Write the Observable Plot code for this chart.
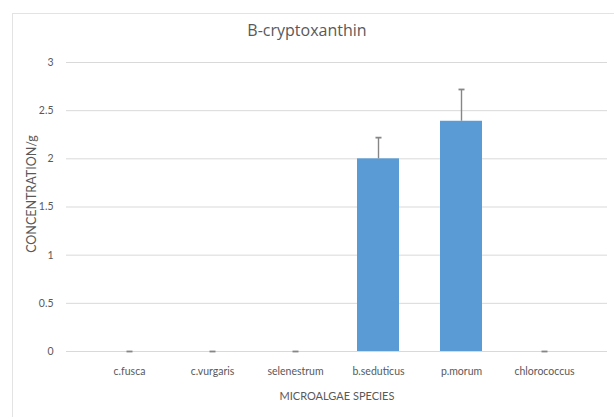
<!DOCTYPE html>
<html>
<head>
<meta charset="utf-8">
<script src="https://cdn.jsdelivr.net/npm/d3@7"></script>
<script src="https://cdn.jsdelivr.net/npm/@observablehq/plot@0.6"></script>
<style>
  html, body { margin: 0; padding: 0; background: #fff; }
  body { width: 614px; height: 417px; position: relative; overflow: hidden;
         font-family: Lato, "Open Sans", sans-serif; }
  #frame { position: absolute; left: 12px; top: 13px; width: 610px; height: 420px;
           border: 1px solid #e3e3e3; box-sizing: border-box; }
  #title { position: absolute; top: 19px; left: 0; width: 614px; text-align: center;
           font-family: "Open Sans", sans-serif; font-size: 16px; color: #595959; }
  #chart { position: absolute; top: 40px; left: 0; }
</style>
</head>
<body>
<div id="frame"></div>
<div id="title">B-cryptoxanthin</div>
<div id="chart"></div>
<script>
const species = ["c.fusca", "c.vurgaris", "selenestrum", "b.seduticus", "p.morum", "chlorococcus"];
const values = [0, 0, 0, 2.0, 2.39, 0];
const errors = [0, 0, 0, 0.22, 0.33, 0];
const yTicks = [0, 0.5, 1, 1.5, 2, 2.5, 3];
const yTitle = "CONCENTRATION/g";
const xTitle = "MICROALGAE SPECIES";

const data = species.map((s, i) => ({species: s, value: values[i], err: errors[i], top: values[i] + errors[i]}));

// short horizontal cap symbol for error bars
const capSymbol = {draw(ctx) { ctx.moveTo(-3, 0); ctx.lineTo(3, 0); }};

const chart = Plot.plot({
  width: 614,
  height: 377,
  marginTop: 22,
  marginBottom: 66,
  marginLeft: 66,
  marginRight: 7,
  style: {fontFamily: 'Lato, "Open Sans", sans-serif', fontSize: "10.5px", color: "#595959", background: "transparent"},
  x: {domain: species, padding: 0.5, label: null},
  y: {domain: [0, 3], label: null},
  marks: [
    Plot.gridY(yTicks, {stroke: "#d9d9d9", strokeOpacity: 1, strokeWidth: 1}),
    Plot.barY(data, {x: "species", y: "value", fill: "#5b9bd5"}),
    Plot.ruleY([0], {stroke: "#d9d9d9", strokeWidth: 1}),
    Plot.ruleX(data.filter(d => d.err > 0), {x: "species", y1: "value", y2: "top", stroke: "#868686", strokeWidth: 1.4}),
    Plot.dot(data, {x: "species", y: "top", symbol: capSymbol, fill: "none", stroke: "#868686", strokeWidth: 1.8}),
    Plot.axisY(yTicks, {tickSize: 0, tickPadding: 13, tickFormat: d => String(d), fontSize: 10.5, label: null}),
    Plot.axisX({tickSize: 0, tickPadding: 16, fontSize: 10.5, label: null}),
    Plot.text([yTitle], {frameAnchor: "left", textAnchor: "middle", rotate: -90, dx: -35, dy: -13, fontSize: 12.5, fill: "#595959"}),
    Plot.text([xTitle], {frameAnchor: "bottom", dy: 48, fontSize: 11, fill: "#595959"})
  ]
});
document.getElementById("chart").appendChild(chart);
</script>
</body>
</html>
